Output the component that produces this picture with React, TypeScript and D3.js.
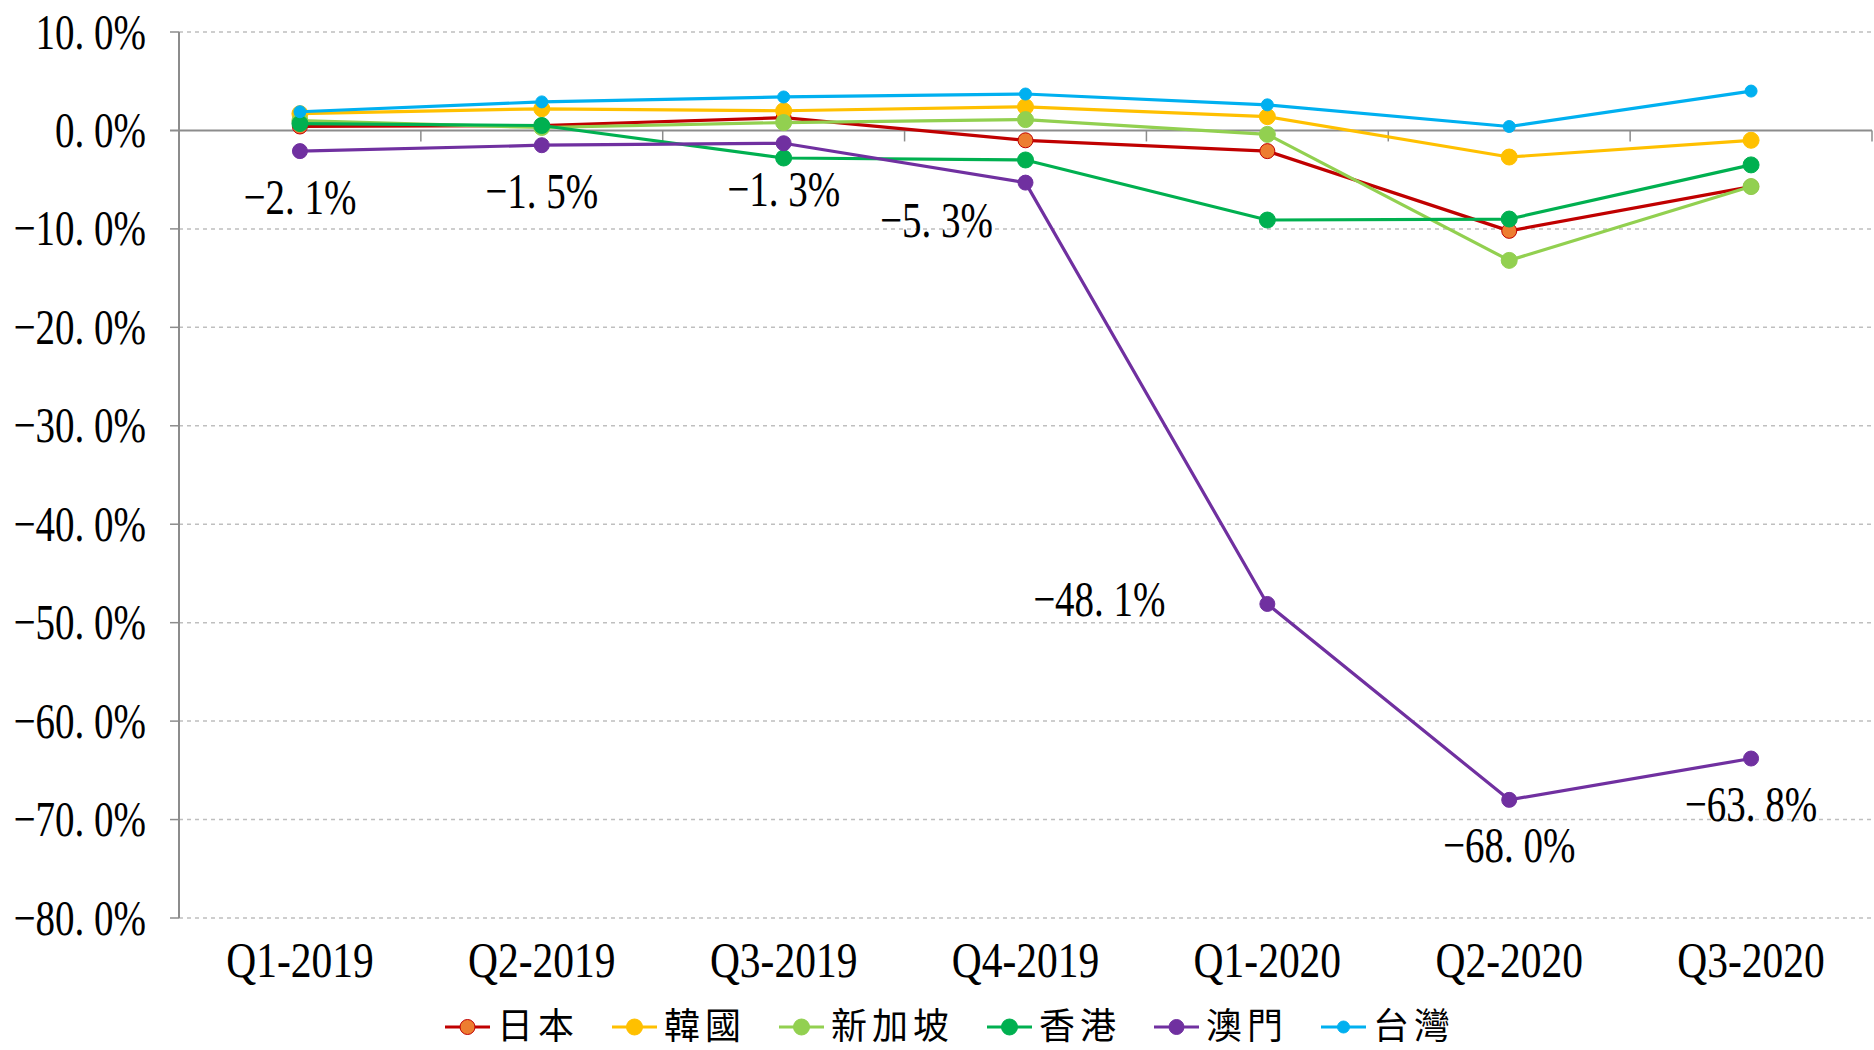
import React from 'react';
import * as d3 from 'd3';

const categories = ['Q1-2019', 'Q2-2019', 'Q3-2019', 'Q4-2019', 'Q1-2020', 'Q2-2020', 'Q3-2020'];
const japan = [0.4, 0.5, 1.3, -1.0, -2.1, -10.2, -5.7];
const korea = [1.7, 2.2, 2.0, 2.4, 1.4, -2.7, -1.0];
const singapore = [1.0, 0.3, 0.8, 1.1, -0.4, -13.2, -5.7];
const hongKong = [0.7, 0.5, -2.8, -3.0, -9.1, -9.0, -3.5];
const macau = [-2.1, -1.5, -1.3, -5.3, -48.1, -68.0, -63.8];
const taiwan = [1.9, 2.9, 3.4, 3.7, 2.6, 0.4, 4.0];
const seriesNames = ['日本', '韓國', '新加坡', '香港', '澳門', '台灣'];
const yTicks = [10, 0, -10, -20, -30, -40, -50, -60, -70, -80];
const macauLabelPlacement = ['below', 'below', 'below', 'belowLeft', 'left', 'below', 'below'];

const W = 1874;
const H = 1050;
const plotLeft = 179;
const plotRight = 1872;
const plotTop = 32;
const plotBottom = 918;

const serif = '"Liberation Serif", "DejaVu Serif", serif';
const cjk = '"Noto Sans CJK TC", "Noto Sans CJK SC", sans-serif';
const FS = 50;
const SX = 0.78;

const fmt = (v: number) => `${v.toFixed(1).replace('.', '. ').replace('-', '\u2212')}%`;

export default function App() {
  const x = d3.scaleBand<string>().domain(categories).range([plotLeft, plotRight]).padding(0);
  const y = d3.scaleLinear().domain([-80, 10]).range([plotBottom, plotTop]);
  const cx = (c: string) => (x(c) as number) + x.bandwidth() / 2;

  const series = [
    { name: seriesNames[0], data: japan, line: '#C00000', fill: '#ED7D31', stroke: '#C00000', r: 7.5 },
    { name: seriesNames[1], data: korea, line: '#FFC000', fill: '#FFC000', stroke: '#FFC000', r: 8 },
    { name: seriesNames[2], data: singapore, line: '#92D050', fill: '#92D050', stroke: '#92D050', r: 8 },
    { name: seriesNames[3], data: hongKong, line: '#00B050', fill: '#00B050', stroke: '#00B050', r: 8 },
    { name: seriesNames[4], data: macau, line: '#7030A0', fill: '#7030A0', stroke: '#7030A0', r: 7.5 },
    { name: seriesNames[5], data: taiwan, line: '#00B0F0', fill: '#00B0F0', stroke: '#00B0F0', r: 6 },
  ];

  const lineGen = d3
    .line<number>()
    .x((_, i) => cx(categories[i]))
    .y((d) => y(d));

  const boundaries = categories.map((c) => x(c) as number).concat([plotRight]);

  const labelOffset = (p: string) => {
    if (p === 'below') return { dx: 0, dy: 46 };
    if (p === 'belowLeft') return { dx: -89, dy: 38 };
    return { dx: -168, dy: -4 };
  };

  const legendY = 1027;
  const charW = 41;
  let lx = 445;
  const legendItems = series.map((s) => {
    const item = { s, x: lx };
    lx += 45 + 8 + s.name.length * charW + 32;
    return item;
  });

  return (
    <div style={{ position: 'absolute', left: 0, top: 0 }}>
      <svg width={W} height={H} style={{ display: 'block', background: '#fff' }}>
        {yTicks.map((t) =>
          t === 0 ? null : (
            <g key={`g${t}`}>
              <line x1={plotLeft} x2={plotRight} y1={y(t)} y2={y(t)} stroke="#BFBFBF" strokeWidth={1.5} strokeDasharray="4 4" />
              <line x1={plotLeft - 9} x2={plotLeft} y1={y(t)} y2={y(t)} stroke="#8C8C8C" strokeWidth={1.5} />
            </g>
          )
        )}
        <line x1={plotLeft} x2={plotLeft} y1={plotTop} y2={plotBottom} stroke="#8C8C8C" strokeWidth={2} />
        <line x1={plotLeft - 9} x2={plotRight} y1={y(0)} y2={y(0)} stroke="#8C8C8C" strokeWidth={2} />
        {boundaries.map((b, i) => (
          <line key={`xt${i}`} x1={b} x2={b} y1={y(0)} y2={y(0) + 11} stroke="#8C8C8C" strokeWidth={1.5} />
        ))}
        {yTicks.map((t) => (
          <text
            key={`yl${t}`}
            transform={`translate(${146},${y(t) + 16.5}) scale(${SX},1)`}
            textAnchor="end"
            fontFamily={serif}
            fontSize={FS}
            fill="#000"
          >
            {fmt(t)}
          </text>
        ))}
        {categories.map((c) => (
          <text
            key={`xl${c}`}
            transform={`translate(${cx(c)},${977}) scale(0.83,1)`}
            textAnchor="middle"
            fontFamily={serif}
            fontSize={FS}
            fill="#000"
          >
            {c}
          </text>
        ))}
        {series.map((s) => (
          <g key={s.name}>
            <path d={lineGen(s.data) || ''} fill="none" stroke={s.line} strokeWidth={3.2} strokeLinejoin="round" />
            {s.data.map((v, i) => (
              <circle key={i} cx={cx(categories[i])} cy={y(v)} r={s.r} fill={s.fill} stroke={s.stroke} strokeWidth={1} />
            ))}
          </g>
        ))}
        {macau.map((v, i) => {
          const o = labelOffset(macauLabelPlacement[i]);
          return (
            <text
              key={`ml${i}`}
              transform={`translate(${cx(categories[i]) + o.dx},${y(v) + o.dy + 16.5}) scale(${SX},1)`}
              textAnchor="middle"
              fontFamily={serif}
              fontSize={FS}
              fill="#000"
            >
              {fmt(v)}
            </text>
          );
        })}
        {legendItems.map(({ s, x: ix }) => (
          <g key={`lg${s.name}`}>
            <line x1={ix} x2={ix + 45} y1={legendY} y2={legendY} stroke={s.line} strokeWidth={3.2} />
            <circle cx={ix + 22.5} cy={legendY} r={s.r} fill={s.fill} stroke={s.stroke} strokeWidth={1} />
            <text x={ix + 52} y={legendY + 12} fontFamily={cjk} fontSize={36} letterSpacing={5} fill="#000">
              {s.name}
            </text>
          </g>
        ))}
      </svg>
    </div>
  );
}
